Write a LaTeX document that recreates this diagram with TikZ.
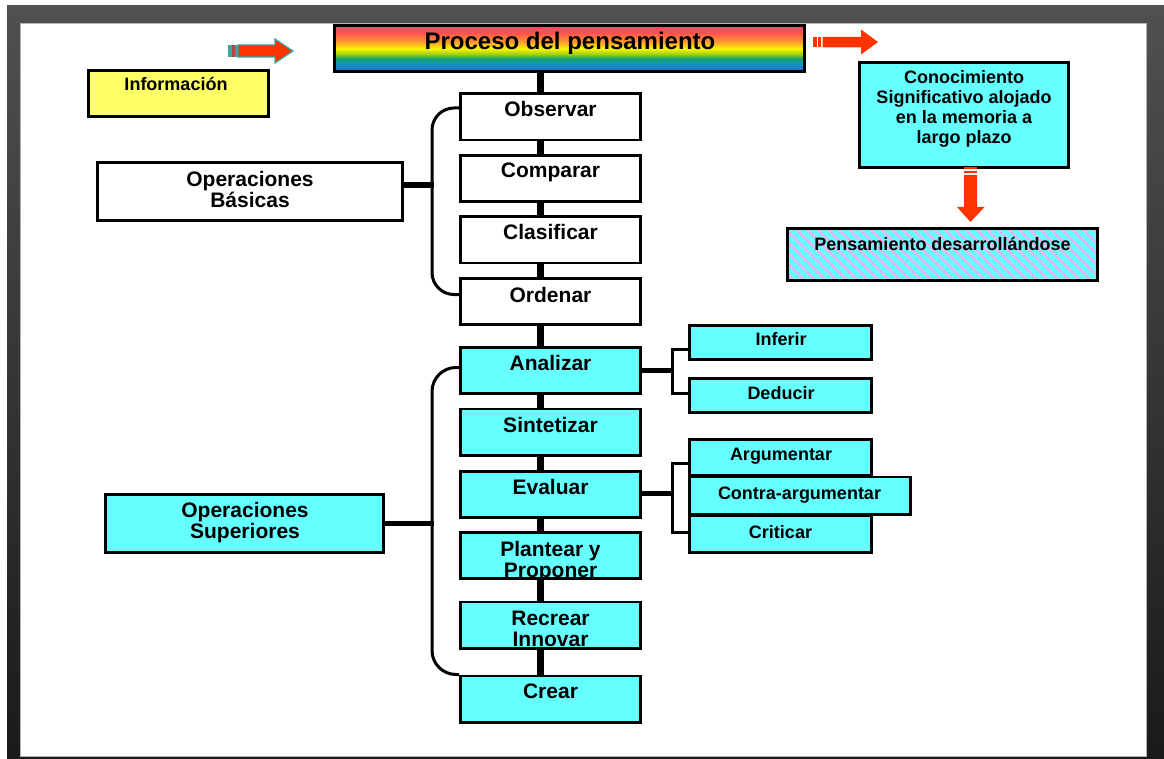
\documentclass[tikz,border=0pt]{standalone}
\usepackage{fontspec}
\setmainfont{Liberation Sans}
\usetikzlibrary{calc,patterns.meta}
\definecolor{cyanc}{HTML}{66FFFF}
\definecolor{yellowc}{HTML}{FFFF66}
\definecolor{arrred}{HTML}{FF3300}
\definecolor{arrteal}{HTML}{3AA3A3}
\definecolor{arrbrown}{HTML}{B04A3A}
\definecolor{hatchpink}{HTML}{EDB2EE}
\definecolor{frametop}{HTML}{505050}
\definecolor{framebot}{HTML}{1A1A1A}
\definecolor{rbA}{HTML}{2266DD}
\definecolor{rbB}{HTML}{1890C0}
\definecolor{rbC}{HTML}{10A070}
\definecolor{rbD}{HTML}{A0D010}
\definecolor{rbE}{HTML}{F8F800}
\definecolor{rbF}{HTML}{FF9930}
\definecolor{rbG}{HTML}{FF5050}
\definecolor{rbH}{HTML}{FF4472}
\pgfdeclareverticalshading{rainbow}{100bp}{color(0bp)=(rbA); color(25bp)=(rbA); color(32.5bp)=(rbB); color(39bp)=(rbC); color(44bp)=(rbD); color(50bp)=(rbE); color(57.5bp)=(rbF); color(67.5bp)=(rbG); color(75bp)=(rbH); color(100bp)=(rbH)}
\begin{document}
\begin{tikzpicture}[x=1pt,y=-1pt,
  box/.style={draw=black,line width=2.8pt,rectangle,inner sep=0pt},
  midbox/.style={box,minimum width=180.2pt,minimum height=46.2pt},
  smallbox/.style={box,fill=cyanc,minimum width=182.2pt,minimum height=34.2pt},
  bigtxt/.style={inner sep=0pt,align=center,font=\bfseries\fontsize{21}{21}\selectfont},
  bigone/.style={bigtxt,text height=15pt,text depth=0pt},
  smalltxt/.style={inner sep=0pt,align=center,font=\bfseries\fontsize{18}{20}\selectfont},
  smallone/.style={smalltxt,text height=13pt,text depth=0pt},
  spine/.style={draw=black,line width=7pt},
  stub/.style={draw=black,line width=5.5pt},
  bracket/.style={draw=black,line width=3pt},
]
\useasboundingbox (0,0) rectangle (1164,759);
% frame
\shade[top color=frametop,bottom color=framebot] (7,6) rectangle (1164,759);
\fill[white] (20,23) rectangle (1147,757);
\draw[gray!60,line width=1pt] (20.5,23.5) rectangle (1146.5,756.5);

% coordinates for connector columns
\coordinate (sx) at (540.5,0);
\coordinate (ba) at (432,0);
\coordinate (bb) at (672,0);

% title
\node[box,shade,shading=rainbow,minimum width=470.2pt,minimum height=46.2pt] (title) at (569.5,48.5) {};
\node[bigtxt,font=\bfseries\fontsize{24}{24}\selectfont,text height=17pt,text depth=0pt] (ttitle) at (570,41) {Proceso del pensamiento};

% informacion
\node[box,fill=yellowc,minimum width=180.2pt,minimum height=46.2pt] (info) at (178.5,93.5) {};
\node[smallone] (tinfo) at (176,84.5) {Información};

% conocimiento
\node[box,fill=cyanc,minimum width=209.2pt,minimum height=105.2pt] (cono) at (964,115) {};
\node[smalltxt] (tcono) at (964,109) {Conocimiento\\Significativo alojado\\en la memoria a\\largo plazo};

% pensamiento
\node[box,preaction={fill=cyanc},pattern={Lines[angle=-45,distance=7.5pt,line width=2.4pt]},pattern color=hatchpink,minimum width=310.2pt,minimum height=52.2pt] (pens) at (942.5,254.5) {};
\node[smallone] (tpens) at (942.5,244) {Pensamiento desarrollándose};

% arrows
\fill[arrteal] (228,45) rectangle (231.5,57);
\fill[arrbrown] (231.5,45) rectangle (234.5,57);
\fill[arrteal] (234.5,45) rectangle (237.5,57);
\draw[arrteal,line width=1.2pt,fill=arrred] (238,45) -- (275,45) -- (275,39) -- (293,51) -- (275,63) -- (275,57) -- (238,57) -- cycle;

\fill[arrred] (813,37) rectangle (816.5,47.5);
\fill[arrred] (818,37) rectangle (821,47.5);
\fill[arrred] (822.5,37) -- (861,37) -- (861,29.5) -- (878,42) -- (861,54.5) -- (861,47.5) -- (822.5,47.5) -- cycle;

\fill[arrred] (964,167) rectangle (977,169.5);
\fill[arrred] (964,171) rectangle (977,173.5);
\fill[arrred] (964,175) -- (977,175) -- (977,207) -- (984.5,207) -- (970.5,222) -- (957,207) -- (964,207) -- cycle;

% central column
\node[midbox,fill=white] (obs) at (550.5,117) {};
\node[midbox,fill=white] (comp) at (550.5,178.5) {};
\node[midbox,fill=white] (clas) at (550.5,240) {};
\node[midbox,fill=white] (ord) at (550.5,301.5) {};
\node[midbox,fill=cyanc] (anal) at (550.5,370.5) {};
\node[midbox,fill=cyanc] (sint) at (550.5,432) {};
\node[midbox,fill=cyanc] (eval) at (550.5,494.5) {};
\node[midbox,fill=cyanc] (plan) at (550.5,555.5) {};
\node[midbox,fill=cyanc] (recr) at (550.5,625) {};
\node[midbox,fill=cyanc] (crea) at (550.5,699) {};

\node[bigone] (tobs) at (550.5,109.5) {Observar};
\node[bigone] (tcomp) at (550.5,170.5) {Comparar};
\node[bigone] (tclas) at (550.5,232) {Clasificar};
\node[bigone] (tord) at (550.5,294.5) {Ordenar};
\node[bigone] (tanal) at (550.5,363) {Analizar};
\node[bigone] (tsint) at (550.5,425) {Sintetizar};
\node[bigone] (teval) at (550.5,487) {Evaluar};
\node[bigtxt] (tplan) at (550.5,562) {Plantear y\\Proponer};
\node[bigtxt] (trecr) at (550.5,628.5) {Recrear\\Innovar};
\node[bigone] (tcrea) at (550.5,691) {Crear};

% spine connectors
\draw[spine] (title.south -| sx) -- (obs.north -| sx);
\draw[spine] (obs.south -| sx) -- (comp.north -| sx);
\draw[spine] (comp.south -| sx) -- (clas.north -| sx);
\draw[spine] (clas.south -| sx) -- (ord.north -| sx);
\draw[spine] (ord.south -| sx) -- (anal.north -| sx);
\draw[spine] (anal.south -| sx) -- (sint.north -| sx);
\draw[spine] (sint.south -| sx) -- (eval.north -| sx);
\draw[spine] (eval.south -| sx) -- (plan.north -| sx);
\draw[spine] (plan.south -| sx) -- (recr.north -| sx);
\draw[spine] (recr.south -| sx) -- (crea.north -| sx);

% operaciones basicas
\node[box,fill=white,minimum width=305.2pt,minimum height=58.2pt] (basicas) at (250,191.5) {};
\node[bigtxt] (tbasicas) at (250,189.5) {Operaciones\\Básicas};
\draw[stub] ($(basicas.east)+(0,-6.5)$) -- ($(basicas.east -| ba)+(1.5,-6.5)$);
\draw[bracket,rounded corners=22pt] ($(obs.west)+(0,-9)$) -- ($(obs.west -| ba)+(0,-9)$) -- ($(ord.west -| ba)+(0,-7)$) -- ($(ord.west)+(0,-7)$);

% operaciones superiores
\node[box,fill=cyanc,minimum width=278.2pt,minimum height=58.2pt] (sup) at (244.5,523.5) {};
\node[bigtxt] (tsup) at (245,523) {Operaciones\\Superiores};
\draw[stub] (sup.east) -- ($(sup.east -| ba)+(1.5,0)$);
\draw[bracket,rounded corners=24pt] ($(anal.west)+(0,-3)$) -- ($(anal.west -| ba)+(0,-3)$) -- (crea.north west -| ba) -- (crea.north west);

% right side boxes
\node[smallbox] (inf) at (780.5,342.5) {};
\node[smallbox] (ded) at (780.5,395.5) {};
\node[smallbox,minimum height=36.2pt] (arg) at (780.5,457.5) {};
\node[smallbox,minimum height=36.2pt] (crit) at (780.5,534) {};
\node[box,fill=cyanc,minimum width=221.2pt,minimum height=37.2pt] (contra) at (800,495.5) {};

\node[smallone] (tinf) at (781,339) {Inferir};
\node[smallone] (tded) at (781,392.5) {Deducir};
\node[smallone] (targ) at (781,454) {Argumentar};
\node[smallone] (tcontra) at (799.5,493) {Contra-argumentar};
\node[smallone] (tcrit) at (780.5,532) {Criticar};

\draw[stub,line width=5pt] (anal.east) -- ($(anal.east -| bb)+(1.5,0)$);
\draw[bracket] ($(inf.west)+(0,6.5)$) -- ($(inf.west -| bb)+(0,6.5)$) -- ($(ded.west -| bb)+(0,-2.5)$) -- ($(ded.west)+(0,-2.5)$);

\draw[stub,line width=5pt] ($(eval.east)+(0,-1.5)$) -- ($(eval.east -| bb)+(1.5,-1.5)$);
\draw[bracket] ($(arg.west)+(0,5.5)$) -- ($(arg.west -| bb)+(0,5.5)$) -- ($(crit.west -| bb)+(0,-2)$) -- ($(crit.west)+(0,-2)$);
\end{tikzpicture}
\end{document}
